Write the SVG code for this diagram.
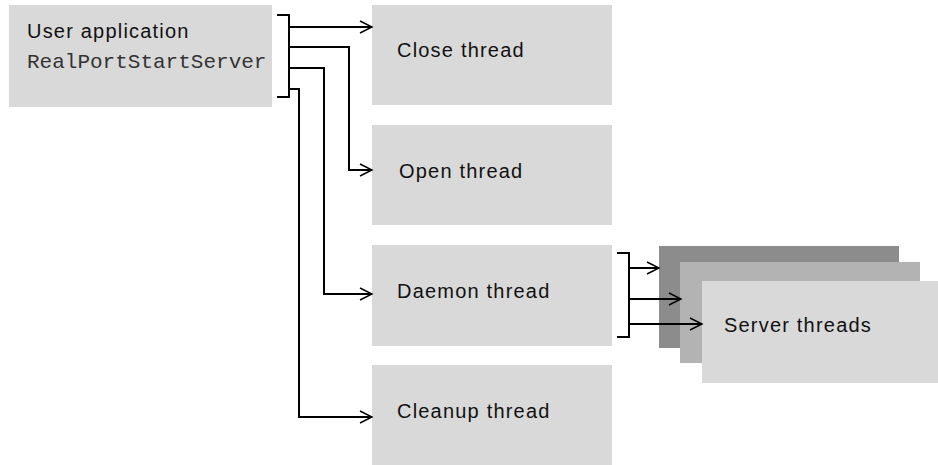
<svg xmlns="http://www.w3.org/2000/svg" width="938" height="465" viewBox="0 0 938 465">
  <defs>
    <style>
      .box { fill: #d9d9d9; }
      .box-mid { fill: #b3b3b3; }
      .box-dark { fill: #8c8c8c; }
      .label { font-family: "Liberation Sans", Arial, sans-serif; font-size: 20px; letter-spacing: 1.2px; fill: #111; }
      .code { font-family: "Liberation Mono", "DejaVu Sans Mono", monospace; font-size: 21px; fill: #333; }
      .wire { fill: none; stroke: #000; stroke-width: 2; }
    </style>
    <marker id="arrow" markerUnits="userSpaceOnUse" markerWidth="16" markerHeight="16" viewBox="-14 -8 16 16" refX="0" refY="0" orient="auto">
      <path d="M-12,-6 L0,0 L-12,6" fill="none" stroke="#000" stroke-width="1.4"/>
    </marker>
  </defs>

  <!-- caller -->
  <g id="user-application">
    <rect class="box" x="9" y="5" width="263" height="102"/>
    <text class="label" x="27" y="37.5">User application</text>
    <text class="code" x="27" y="68">RealPortStartServer</text>
  </g>

  <!-- worker threads -->
  <g id="close-thread">
    <rect class="box" x="372" y="5" width="240" height="100"/>
    <text class="label" x="397" y="57">Close thread</text>
  </g>
  <g id="open-thread">
    <rect class="box" x="372" y="125" width="240" height="100"/>
    <text class="label" x="399" y="178">Open thread</text>
  </g>
  <g id="daemon-thread">
    <rect class="box" x="372" y="245" width="240" height="101"/>
    <text class="label" x="397" y="298">Daemon thread</text>
  </g>
  <g id="cleanup-thread">
    <rect class="box" x="372" y="365" width="240" height="100"/>
    <text class="label" x="397" y="418">Cleanup thread</text>
  </g>

  <!-- stacked server threads -->
  <g id="server-threads">
    <rect class="box-dark" x="659" y="246" width="240" height="102"/>
    <rect class="box-mid" x="680" y="262" width="240" height="101"/>
    <rect class="box" x="702" y="281" width="240" height="102"/>
    <text class="label" x="724" y="332">Server threads</text>
  </g>

  <g id="connectors">
    <!-- bracket on the caller -->
    <path class="wire" d="M277,15 H289 V97 H277"/>
    <path class="wire" d="M289,27 H372" marker-end="url(#arrow)"/>
    <path class="wire" d="M289,47 H349 V170 H372" marker-end="url(#arrow)"/>
    <path class="wire" d="M289,68 H324 V294 H372" marker-end="url(#arrow)"/>
    <path class="wire" d="M289,89 H299 V417 H372" marker-end="url(#arrow)"/>
    <!-- bracket on the daemon -->
    <path class="wire" d="M617,253 H629 V337 H617"/>
    <path class="wire" d="M629,268 H659" marker-end="url(#arrow)"/>
    <path class="wire" d="M629,299 H681" marker-end="url(#arrow)"/>
    <path class="wire" d="M629,324 H702" marker-end="url(#arrow)"/>
  </g>
</svg>
